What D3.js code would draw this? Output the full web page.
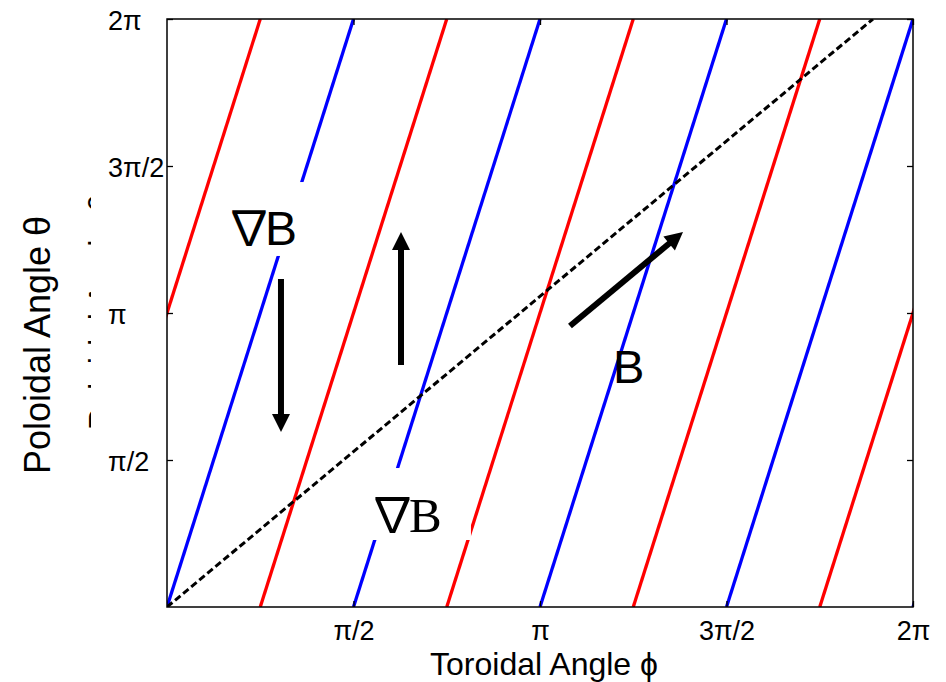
<!DOCTYPE html>
<html>
<head>
<meta charset="utf-8">
<script src="https://cdn.jsdelivr.net/npm/d3@7"></script>
<style>
  body { margin: 0; background: #fff; }
  text { font-family: "Liberation Sans", Arial, sans-serif; }
</style>
</head>
<body>
<svg id="chart" width="946" height="682"></svg>
<script>
var PI = Math.PI;

// axis ticks (both axes run 0..2pi)
var tickValues = [PI / 2, PI, 3 * PI / 2, 2 * PI];
var tickLabels = ["\u03c0/2", "\u03c0", "3\u03c0/2", "2\u03c0"];

// start of each coloured line on the bottom edge, in units of pi
var blueStarts = [0, 0.5, 1, 1.5, 2];
var redStarts = [-0.25, 0.25, 0.75, 1.25, 1.75];
var lineRun = PI / 2;          // toroidal run for a full 2pi poloidal turn

// dashed field line
var fieldPhi = [0, 5.946];
var fieldTheta = [0, 2 * PI];

// arrows [phi, theta]
var arrows = [
  { from: [0.960, 3.505], to: [0.960, 1.870] },
  { from: [1.971, 2.586], to: [1.971, 4.007] },
  { from: [3.394, 3.003], to: [4.346, 4.007] }
];

// text annotations and the white boxes behind the grad-B labels
var notes = [
  { nabla: true, text: "B", phi: 0.531, theta: 3.868, serif: false, size: 48 },
  { nabla: true, text: "B", phi: 1.735, theta: 0.801, serif: true, size: 49 },
  { nabla: false, text: "B", phi: 3.756, theta: 2.394, serif: false, size: 47 }
];
var masks = [
  { phi: [0.463, 1.171], theta: [3.751, 4.541] },
  { phi: [1.693, 2.560], theta: [0.716, 1.485] }
];

var svg = d3.select("#chart");
var pLeft = 167, pRight = 913, pTop = 19, pBottom = 607;

var x = d3.scaleLinear().domain([0, 2 * PI]).range([pLeft, pRight]);
var y = d3.scaleLinear().domain([0, 2 * PI]).range([pBottom, pTop]);

var defs = svg.append("defs");
defs.append("clipPath").attr("id", "plotclip")
  .append("rect")
  .attr("x", pLeft).attr("y", pTop)
  .attr("width", pRight - pLeft).attr("height", pBottom - pTop);

var plot = svg.append("g").attr("clip-path", "url(#plotclip)");

var lines = [];
blueStarts.forEach(function(s) { lines.push({ start: s * PI, color: "#0000ff" }); });
redStarts.forEach(function(s) { lines.push({ start: s * PI, color: "#ff0000" }); });

plot.selectAll("line.fl")
  .data(lines)
  .enter().append("line")
    .attr("class", "fl")
    .attr("x1", function(d) { return x(d.start); })
    .attr("y1", y(0))
    .attr("x2", function(d) { return x(d.start + lineRun); })
    .attr("y2", y(2 * PI))
    .attr("stroke", function(d) { return d.color; })
    .attr("stroke-width", 3.3);

// white boxes that break the lines behind the labels
plot.selectAll("rect.mask")
  .data(masks)
  .enter().append("rect")
    .attr("x", function(d) { return x(d.phi[0]); })
    .attr("y", function(d) { return y(d.theta[1]); })
    .attr("width", function(d) { return x(d.phi[1]) - x(d.phi[0]); })
    .attr("height", function(d) { return y(d.theta[0]) - y(d.theta[1]); })
    .attr("fill", "#fff");

plot.append("line")
  .attr("x1", x(fieldPhi[0])).attr("y1", y(fieldTheta[0]))
  .attr("x2", x(fieldPhi[1])).attr("y2", y(fieldTheta[1]))
  .attr("stroke", "#000")
  .attr("stroke-width", 3)
  .attr("stroke-dasharray", "7,3.5");

// arrows
var headLen = 18, headHalf = 9;
arrows.forEach(function(a) {
  var x1 = x(a.from[0]), y1 = y(a.from[1]);
  var x2 = x(a.to[0]), y2 = y(a.to[1]);
  var dx = x2 - x1, dy = y2 - y1, len = Math.sqrt(dx * dx + dy * dy);
  var ux = dx / len, uy = dy / len;
  var bx = x2 - ux * headLen, by = y2 - uy * headLen;
  svg.append("line")
    .attr("x1", x1).attr("y1", y1)
    .attr("x2", bx + ux * 2).attr("y2", by + uy * 2)
    .attr("stroke", "#000").attr("stroke-width", 6);
  svg.append("polygon")
    .attr("points", [
      [x2, y2],
      [bx - uy * headHalf, by + ux * headHalf],
      [bx + uy * headHalf, by - ux * headHalf]
    ].map(function(p) { return p.join(","); }).join(" "))
    .attr("fill", "#000");
});

var noteText = svg.selectAll("text.note")
  .data(notes)
  .enter().append("text")
    .attr("class", "note")
    .attr("x", function(d) { return x(d.phi); })
    .attr("y", function(d) { return y(d.theta); })
    .style("font-family", function(d) {
      return d.serif ? "'Liberation Serif', 'Noto Sans CJK JP', serif"
                     : "'Liberation Sans', 'Noto Sans CJK JP', sans-serif";
    })
    .style("font-size", function(d) { return d.size + "px"; });

noteText.filter(function(d) { return d.nabla; })
  .append("tspan")
    .attr("dx", -5)
    .style("letter-spacing", "-8px")
    .text("\u2207");
noteText.append("tspan")
  .text(function(d) { return d.text; });

// axes with inward ticks
var fmt = function(d, i) { return tickLabels[i]; };
var xAxis = svg.append("g")
  .attr("transform", "translate(0," + pBottom + ")")
  .call(d3.axisBottom(x).tickValues(tickValues).tickFormat(fmt).tickSize(-6).tickSizeOuter(0));
xAxis.selectAll("text").attr("y", 33).attr("dy", null).style("font-size", "27px").attr("fill", "#000");

svg.append("g")
  .attr("transform", "translate(0," + pTop + ")")
  .call(d3.axisTop(x).tickValues(tickValues).tickFormat("").tickSize(-6).tickSizeOuter(0));

var yAxis = svg.append("g")
  .attr("transform", "translate(" + pLeft + ",0)")
  .call(d3.axisLeft(y).tickValues(tickValues).tickFormat(fmt).tickSize(-6).tickSizeOuter(0));
yAxis.selectAll("text")
  .attr("x", 108 - pLeft).attr("dy", "0.38em")
  .attr("text-anchor", "start")
  .style("font-size", "27px").attr("fill", "#000");

svg.append("g")
  .attr("transform", "translate(" + pRight + ",0)")
  .call(d3.axisRight(y).tickValues(tickValues).tickFormat("").tickSize(-6).tickSizeOuter(0));

svg.selectAll(".domain").remove();
svg.selectAll(".tick line").attr("stroke", "#000").attr("stroke-width", 1.3);

svg.append("rect")
  .attr("x", pLeft).attr("y", pTop)
  .attr("width", pRight - pLeft).attr("height", pBottom - pTop)
  .attr("fill", "none").attr("stroke", "#000").attr("stroke-width", 1.5);

// axis titles
svg.append("text")
  .attr("x", 430).attr("y", 675)
  .attr("textLength", 228).attr("lengthAdjust", "spacingAndGlyphs")
  .style("font-size", "32px")
  .text("Toroidal Angle  \u03d5");

// leftover copy of the y title, mostly hidden behind the tick labels
defs.append("clipPath").attr("id", "ghostclip")
  .append("rect").attr("x", 84).attr("y", 150).attr("width", 7).attr("height", 320);
svg.append("g")
  .attr("clip-path", "url(#ghostclip)")
  .append("text")
    .attr("transform", "translate(112,312) rotate(-90)")
    .attr("text-anchor", "middle")
    .style("font-size", "33px")
    .text("Poloidal Angle \u03b8");

svg.append("text")
  .attr("transform", "translate(50,345) rotate(-90)")
  .attr("text-anchor", "middle")
  .style("font-size", "36px")
  .text("Poloidal Angle \u03b8");
</script>
</body>
</html>
